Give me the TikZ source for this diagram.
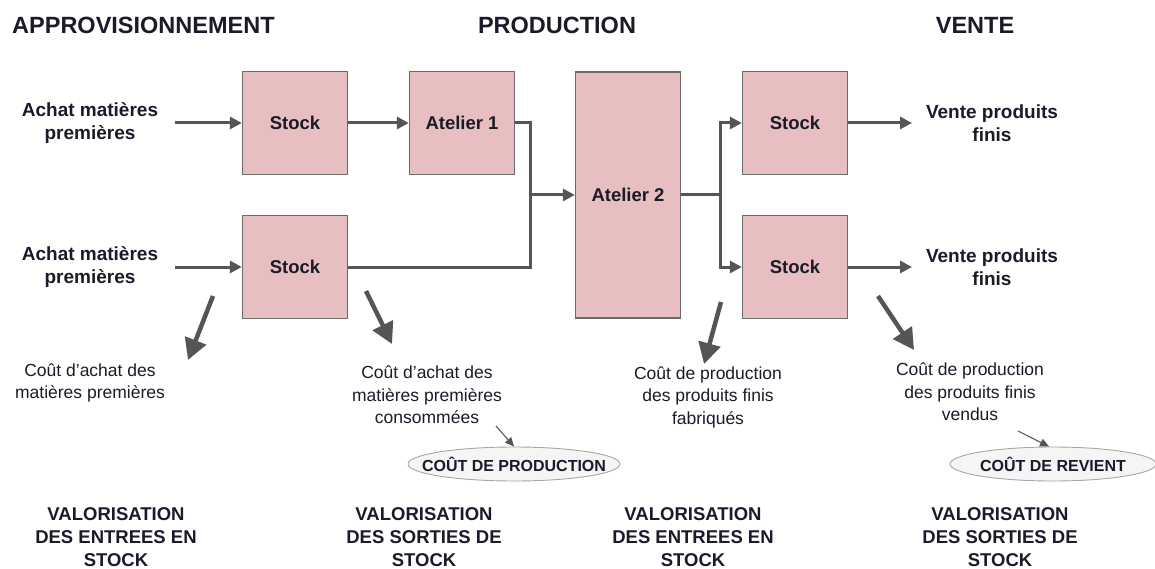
\documentclass[tikz,border=0pt]{standalone}
\usepackage{fontspec}
\setmainfont{Liberation Sans}
\usetikzlibrary{arrows.meta,shapes.geometric}
\definecolor{boxfill}{HTML}{E8BFC0}
\definecolor{boxline}{HTML}{6A6A6A}
\definecolor{conncol}{HTML}{555555}
\definecolor{txt}{HTML}{1A1A2A}
\tikzset{
  box/.style={draw=boxline, line width=1.3pt, fill=boxfill, minimum width=105pt, minimum height=103pt, inner sep=0pt, font=\bfseries\fontsize{18.5}{22}\selectfont, text=txt},
  tallbox/.style={box, minimum height=246pt},
  lab/.style={align=center, font=\bfseries\fontsize{19}{22.5}\selectfont, text=txt, inner sep=0pt},
  head/.style={font=\bfseries\fontsize{23.5}{26}\selectfont, text=txt, inner sep=0pt},
  cost/.style={align=center, font=\fontsize{17.5}{22.5}\selectfont, text=txt, inner sep=0pt},
  valo/.style={align=center, font=\bfseries\fontsize{18.5}{23}\selectfont, text=txt, inner sep=0pt},
  oval/.style={ellipse, draw=gray!70, line width=0.9pt, fill=gray!8, minimum width=212pt, minimum height=34pt, inner xsep=-40pt, inner ysep=0pt, font=\bfseries\fontsize{16}{18}\selectfont, text=txt},
  line/.style={draw=conncol, line width=3pt},
  conn/.style={line, -{Triangle[length=12pt,width=12pt]}},
  bigarrow/.style={draw=conncol, line width=4.5pt, -{Triangle[length=21pt,width=22pt]}},
  thin/.style={draw=conncol, line width=1.1pt, -{Triangle[length=9pt,width=8pt]}}
}
\begin{document}
\begin{tikzpicture}[x=1pt,y=-1pt]
\useasboundingbox (0,0) rectangle (1155,569);
% headers
\node[head, anchor=west] (h1) at (12,25) {APPROVISIONNEMENT};
\node[head] (h2) at (557,25) {PRODUCTION};
\node[head] (h3) at (975,25) {VENTE};
% boxes
\node[box] (s1) at (295,123) {Stock};
\node[box] (a1) at (462,123) {Atelier 1};
\node[box] (s2) at (295,267) {Stock};
\node[tallbox] (a2) at (628,195) {Atelier 2};
\node[box] (s3) at (795,123) {Stock};
\node[box] (s4) at (795,267) {Stock};
% side labels
\node[lab] (t1) at (90,123) {Achat matières\\premières};
\node[lab] (t2) at (90,267) {Achat matières\\premières};
\node[lab] (v1) at (992,123) {Vente produits\\finis};
\node[lab] (v2) at (992,267) {Vente produits\\finis};
% connectors
\coordinate (j1) at (530,195);
\coordinate (j2) at (720,195);
\coordinate (in1) at (175,123);
\coordinate (in2) at (175,267);
\coordinate (out1) at (912,123);
\coordinate (out2) at (912,267);
\draw[conn] (in1) -- (s1);
\draw[conn] (in2) -- (s2);
\draw[conn] (s1) -- (a1);
\draw[line] (a1.east) -| (j1);
\draw[line] (s2.east) -| (j1);
\draw[conn] (j1) -- (a2.west);
\draw[line] (a2.east) -- (j2);
\draw[conn] (j2) |- (s3.west);
\draw[conn] (j2) |- (s4.west);
\draw[conn] (s3) -- (out1);
\draw[conn] (s4) -- (out2);
% cost labels
\node[cost] (c1) at (90,383) {Coût d'achat des\\matières premières};
\node[cost] (c2) at (427,395) {Coût d'achat des\\matières premières\\consommées};
\node[cost] (c3) at (708,397) {Coût de production\\des produits finis\\fabriqués};
\node[cost] (c4) at (970,392) {Coût de production\\des produits finis\\vendus};
% big arrows
\coordinate (b1s) at (213,296);
\coordinate (b1e) at (188,360);
\coordinate (b2s) at (366,291);
\coordinate (b2e) at (392,344);
\coordinate (b3s) at (721,302);
\coordinate (b3e) at (704,364);
\coordinate (b4s) at (878,296);
\coordinate (b4e) at (914,350);
\draw[bigarrow] (b1s) -- (b1e);
\draw[bigarrow] (b2s) -- (b2e);
\draw[bigarrow] (b3s) -- (b3e);
\draw[bigarrow] (b4s) -- (b4e);
% ovals
\node[oval] (o1) at (514,464) {COÛT DE PRODUCTION};
\node[oval, minimum width=206pt] (o2) at (1053,464) {COÛT DE REVIENT};
\coordinate (th1) at (496,426);
\coordinate (th2) at (1018,431);
\draw[thin] (th1) -- (o1.north);
\draw[thin] (th2) -- ([xshift=-4pt]o2.north);
% bottom labels
\node[valo] (w1) at (116,537) {VALORISATION\\DES ENTREES EN\\STOCK};
\node[valo] (w2) at (424,537) {VALORISATION\\DES SORTIES DE\\STOCK};
\node[valo] (w3) at (693,537) {VALORISATION\\DES ENTREES EN\\STOCK};
\node[valo] (w4) at (1000,537) {VALORISATION\\DES SORTIES DE\\STOCK};
\end{tikzpicture}
\end{document}
